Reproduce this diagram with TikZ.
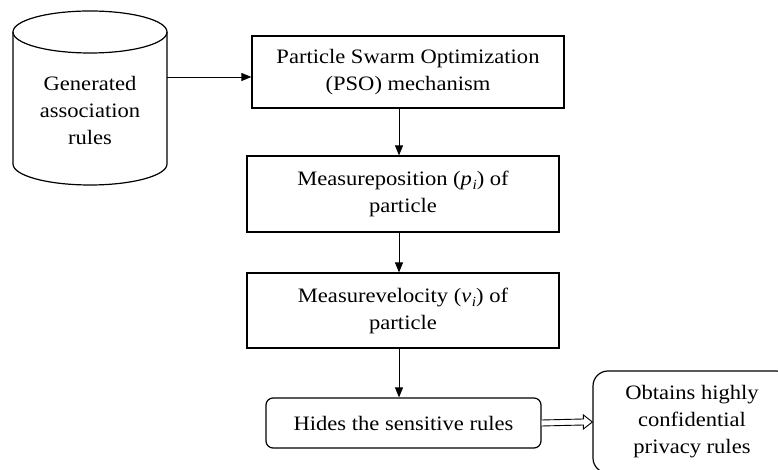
\documentclass[tikz,border=0pt]{standalone}
\usepackage{fontspec}
\setmainfont{Liberation Serif}[FakeStretch=1.1]
\usetikzlibrary{arrows.meta,calc}
\newcommand{\varsub}[2]{{\itshape #1\kern0.5pt\raisebox{-4pt}{\fontsize{14}{14}\selectfont #2}}}
\tikzset{
  txt/.style={font=\fontsize{20.5}{27}\selectfont, align=center, inner sep=0pt},
  box/.style={draw, line width=1.2pt, minimum width=312pt, inner sep=0pt, txt},
  rbox/.style={box, rounded corners=7pt},
  arr/.style={line width=0.9pt, -{Triangle[length=10pt,width=8pt]}},
}
\begin{document}
\begin{tikzpicture}[x=1pt,y=1pt]
\useasboundingbox (0,0) rectangle (778,470);
% cylinder
\draw[line width=1.2pt] (13,438) -- (13,306) arc[start angle=180,end angle=360,x radius=77,y radius=21] -- (167,438);
\draw[line width=1.2pt] (90,438) ellipse[x radius=77,y radius=21];
\node[txt] (db) at (90,360) {Generated\\association\\rules};
\coordinate (dbe) at (167,393);
% boxes
\node[box, minimum height=72pt] (pso) at (408,398) {Particle Swarm Optimization\\(PSO) mechanism};
\node[box, minimum height=76pt] (b2) at (403,276) {Measureposition (\varsub{p}{i}) of\\particle};
\node[box, minimum height=75pt] (b3) at (403,159.5) {Measurevelocity (\varsub{v}{i}) of\\particle};
\node[rbox, minimum width=275pt, minimum height=50pt] (hides) at (403.5,47) {Hides the sensitive rules};
\node[box, rounded corners=15pt, minimum width=198pt, minimum height=102pt] (obt) at (692,48) {Obtains highly\\confidential\\privacy rules};
% connectors
\coordinate (ax) at (399,0);
\draw[arr] (dbe) -- (dbe -| pso.west);
\draw[arr] (pso.south -| ax) -- (b2.north -| ax);
\draw[arr] (b2.south -| ax) -- (b3.north -| ax);
\draw[arr] (b3.south -| ax) -- (hides.north -| ax);
% hollow double arrow
\draw[line width=0.9pt, fill=white]
  ($(hides.east)+(0,3)$) -- ($(obt.west)+(-9,3)$) -- ($(obt.west)+(-9,7)$) -- (obt.west)
  -- ($(obt.west)+(-9,-7)$) -- ($(obt.west)+(-9,-3)$) -- ($(hides.east)+(0,-3)$);
\end{tikzpicture}
\end{document}
